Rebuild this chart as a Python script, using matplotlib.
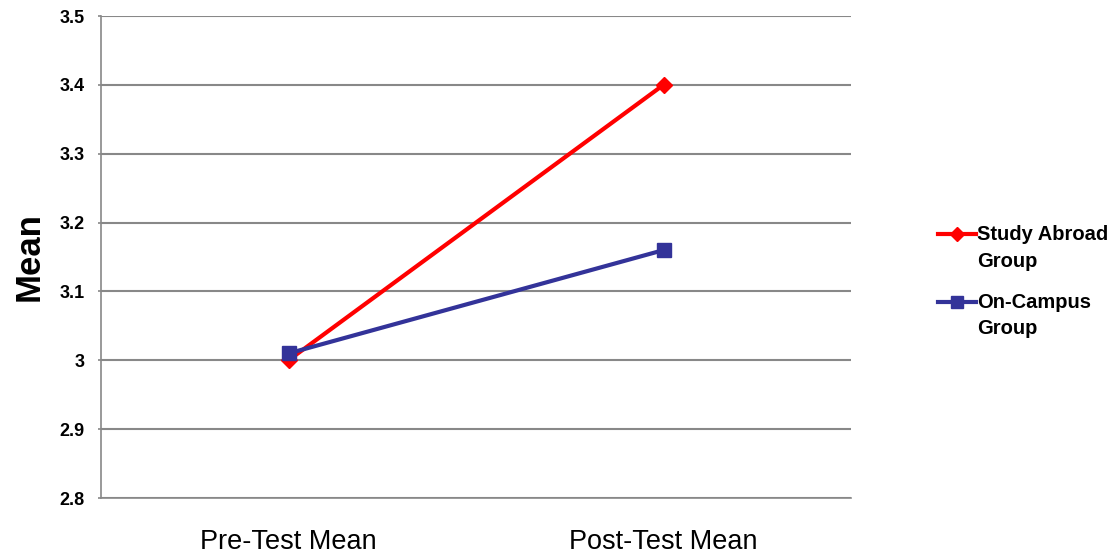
import matplotlib
matplotlib.use("Agg")
import matplotlib.pyplot as plt
from matplotlib.lines import Line2D

plt.rcParams['font.family'] = ['Liberation Sans', 'DejaVu Sans']

categories = ["Pre-Test Mean", "Post-Test Mean"]
study_abroad = [3.00, 3.40]
on_campus = [3.01, 3.16]
y_ticks = [2.8, 2.9, 3.0, 3.1, 3.2, 3.3, 3.4, 3.5]
y_tick_labels = ["2.8", "2.9", "3", "3.1", "3.2", "3.3", "3.4", "3.5"]
series_names = ["Study Abroad\nGroup", "On-Campus\nGroup"]

W, H = 1120, 560
fig = plt.figure(figsize=(W / 100, H / 100), dpi=100)
ax = fig.add_axes([101 / W, 1 - 498 / H, (851 - 101) / W, (498 - 16) / H])

red, blue = "#ff0000", "#333399"
x = [0.5, 1.5]
ax.plot(x, study_abroad, color=red, lw=3, marker="D", ms=8, zorder=3)
ax.plot(x, on_campus, color=blue, lw=3, marker="s", ms=9.5, zorder=4)

ax.set_xlim(0, 2)
ax.set_ylim(2.8, 3.5)
ax.set_yticks(y_ticks)
ax.set_yticklabels(y_tick_labels, fontsize=13, fontweight="bold")
ax.set_xticks(x)
ax.set_xticklabels(categories, fontsize=19.5)
ax.tick_params(axis="x", length=0, pad=22)
ax.tick_params(axis="y", length=2, color="#888888", width=1.2, pad=10)

ax.yaxis.grid(True, color="#888888", lw=1.5)
ax.set_axisbelow(True)
for side in ["top", "right"]:
    ax.spines[side].set_visible(False)
for side in ["left", "bottom"]:
    ax.spines[side].set_color("#888888")
    ax.spines[side].set_linewidth(1.2)

fig.text(29 / W, 1 - 257 / H, "Mean", rotation=90, ha="center", va="center",
         fontsize=25, fontweight="bold")

# Legend: handle aligned with the first line of each two-line label
entries = [(series_names[0], red, "D", 7, 234),
           (series_names[1], blue, "s", 8.5, 302)]
for name, col, mk, ms, ypix in entries:
    yf = 1 - ypix / H
    fig.add_artist(Line2D([938 / W, 976 / W], [yf, yf], transform=fig.transFigure,
                          color=col, lw=3))
    fig.add_artist(Line2D([957 / W], [yf], transform=fig.transFigure,
                          color=col, marker=mk, ms=ms, lw=0))
    fig.text(977 / W, yf + 9 / H, name, ha="left", va="top", fontsize=14.5,
             fontweight="bold", linespacing=1.5)

fig.savefig("out.png", dpi=100)
